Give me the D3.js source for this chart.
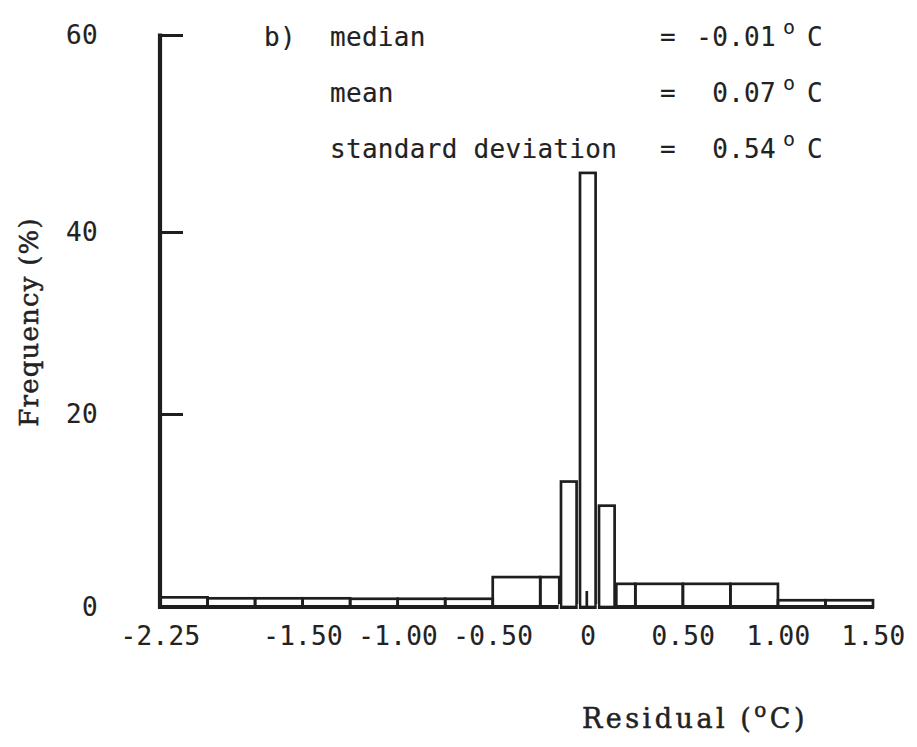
<!DOCTYPE html>
<html><head><meta charset="utf-8">
<script src="https://cdn.jsdelivr.net/npm/d3@7"></script>
<style>
  body { margin: 0; background: #fff; }
  .mono { font-family: "DejaVu Sans Mono", monospace; font-size: 26px; letter-spacing: 0.3px; fill: #222; stroke: #222; stroke-width: 0.15px; }
  .sup { font-family: "DejaVu Sans Mono", monospace; font-size: 20px; fill: #222; }
  .title { font-family: "DejaVu Serif", serif; font-size: 27px; fill: #222; stroke: #222; stroke-width: 0.5px; }
</style>
</head><body>
<svg id="chart" width="917" height="747"></svg>
<script>
// Residual histogram bins: lower edge, upper edge (deg C) and frequency (%)
const binLower  = [-2.25, -2.0, -1.75, -1.5, -1.25, -1.0, -0.75, -0.5, -0.25, -0.15, -0.05, 0.05, 0.15, 0.25, 0.5, 0.75, 1.0, 1.25];
const binUpper  = [-2.0, -1.75, -1.5, -1.25, -1.0, -0.75, -0.5, -0.25, -0.15, -0.05, 0.05, 0.15, 0.25, 0.5, 0.75, 1.0, 1.25, 1.5];
const frequency = [1.0, 0.9, 0.9, 0.9, 0.85, 0.85, 0.85, 3.1, 3.1, 13.0, 46, 10.5, 2.4, 2.4, 2.4, 2.4, 0.7, 0.7];

const xTickValues = [-2.25, -1.5, -1.0, -0.5, 0, 0.5, 1.0, 1.5];
const xTickLabels = ["-2.25", "-1.50", "-1.00", "-0.50", "0", "0.50", "1.00", "1.50"];
const yTickValues = [0, 20, 40, 60];

const statNames  = ["median", "mean", "standard deviation"];
const statValues = ["-0.01", "0.07", "0.54"];

const ink = "#1e1e1e";
const svg = d3.select("#chart");

const x = d3.scaleLinear().domain([-2.25, 1.5]).range([160, 873]);
// the hand-ruled frequency axis is slightly uneven between its ticks
const y = d3.scaleLinear().domain([0, 20, 40, 60]).range([607, 414, 232, 35]);

const bins = binLower.map((lo, i) => ({ lo, hi: binUpper[i], f: frequency[i] }));
// the three tall central bars are drawn as free-standing columns
const isColumn = d => d.f > 5;

// low bars sharing edges
svg.append("g").selectAll("rect")
  .data(bins.filter(d => !isColumn(d)))
  .join("rect")
  .attr("x", d => x(d.lo))
  .attr("y", d => y(d.f))
  .attr("width", d => x(d.hi) - x(d.lo))
  .attr("height", d => y(0) - y(d.f))
  .attr("fill", "none")
  .attr("stroke", ink)
  .attr("stroke-width", 2.7);

// x axis: baseline + labels
const xAxis = d3.axisBottom(x)
  .tickValues(xTickValues)
  .tickFormat((d, i) => xTickLabels[i])
  .tickSize(0)
  .tickPadding(20);
const gx = svg.append("g").attr("transform", `translate(0,${y(0)})`).call(xAxis);
gx.select(".domain").remove();
gx.selectAll("text").attr("class", "mono").attr("fill", null);

svg.append("line")
  .attr("x1", x(-2.25) - 2).attr("x2", x(1.5) + 1)
  .attr("y1", y(0)).attr("y2", y(0))
  .attr("stroke", ink).attr("stroke-width", 4);

// y axis: spine, inward ticks, labels
const yAxis = d3.axisLeft(y)
  .tickValues(yTickValues)
  .tickSize(-23)
  .tickPadding(62);
const gy = svg.append("g").attr("transform", `translate(${x(-2.25)},0)`).call(yAxis);
gy.select(".domain").remove();
gy.selectAll("line").attr("stroke", ink).attr("stroke-width", 3);
gy.selectAll("text").attr("class", "mono").attr("fill", null);

svg.append("line")
  .attr("x1", x(-2.25)).attr("x2", x(-2.25))
  .attr("y1", y(0) + 2).attr("y2", y(60) - 1.5)
  .attr("stroke", ink).attr("stroke-width", 4.2);

// central columns
const inset = 1.7;
svg.append("g").selectAll("rect")
  .data(bins.filter(isColumn))
  .join("rect")
  .attr("x", d => x(d.lo) + inset)
  .attr("y", d => y(d.f))
  .attr("width", d => x(d.hi) - x(d.lo) - 2 * inset)
  .attr("height", d => y(0) - y(d.f))
  .attr("fill", "#fff")
  .attr("stroke", ink)
  .attr("stroke-width", 2.7);

// hairline gaps between the free-standing columns
svg.append("g").selectAll("rect")
  .data(bins.filter(isColumn))
  .join("rect")
  .attr("x", d => x(d.lo) - 0.6)
  .attr("y", y(0) - 3)
  .attr("width", 1.2)
  .attr("height", 6)
  .attr("fill", "#fff");

// small mark at zero
svg.append("line")
  .attr("x1", x(0) - 1).attr("x2", x(0) - 1)
  .attr("y1", y(0)).attr("y2", y(0) - 16)
  .attr("stroke", ink).attr("stroke-width", 2.7);

// axis titles
svg.append("text")
  .attr("class", "title")
  .attr("transform", "translate(38,322) rotate(-90)")
  .attr("text-anchor", "middle")
  .style("font-size", "26px")
  .style("letter-spacing", "1.2px")
  .text("Frequency (%)");

const xt = svg.append("text")
  .attr("class", "title")
  .attr("x", 695).attr("y", 728)
  .attr("text-anchor", "middle")
  .style("letter-spacing", "3.5px");
xt.append("tspan").text("Residual (");
xt.append("tspan").attr("font-size", 20).style("font-size", "20px").attr("dy", -11).text("o");
xt.append("tspan").attr("dy", 11).text("C)");

// summary statistics block
svg.append("text").attr("class", "mono").attr("x", 264).attr("y", 46).text("b)");
const rowY = d3.scaleLinear().domain([0, 1]).range([46, 102]);
statNames.forEach((name, i) => {
  const yy = rowY(i);
  svg.append("text").attr("class", "mono").attr("x", 330).attr("y", yy).text(name);
  svg.append("text").attr("class", "mono").attr("x", 660).attr("y", yy).text("=");
  svg.append("text").attr("class", "mono").attr("x", 776).attr("y", yy)
    .attr("text-anchor", "end").text(statValues[i]);
  svg.append("text").attr("class", "sup").attr("x", 783).attr("y", yy - 12).text("o");
  svg.append("text").attr("class", "mono").attr("x", 807).attr("y", yy).text("C");
});
</script>
</body></html>
